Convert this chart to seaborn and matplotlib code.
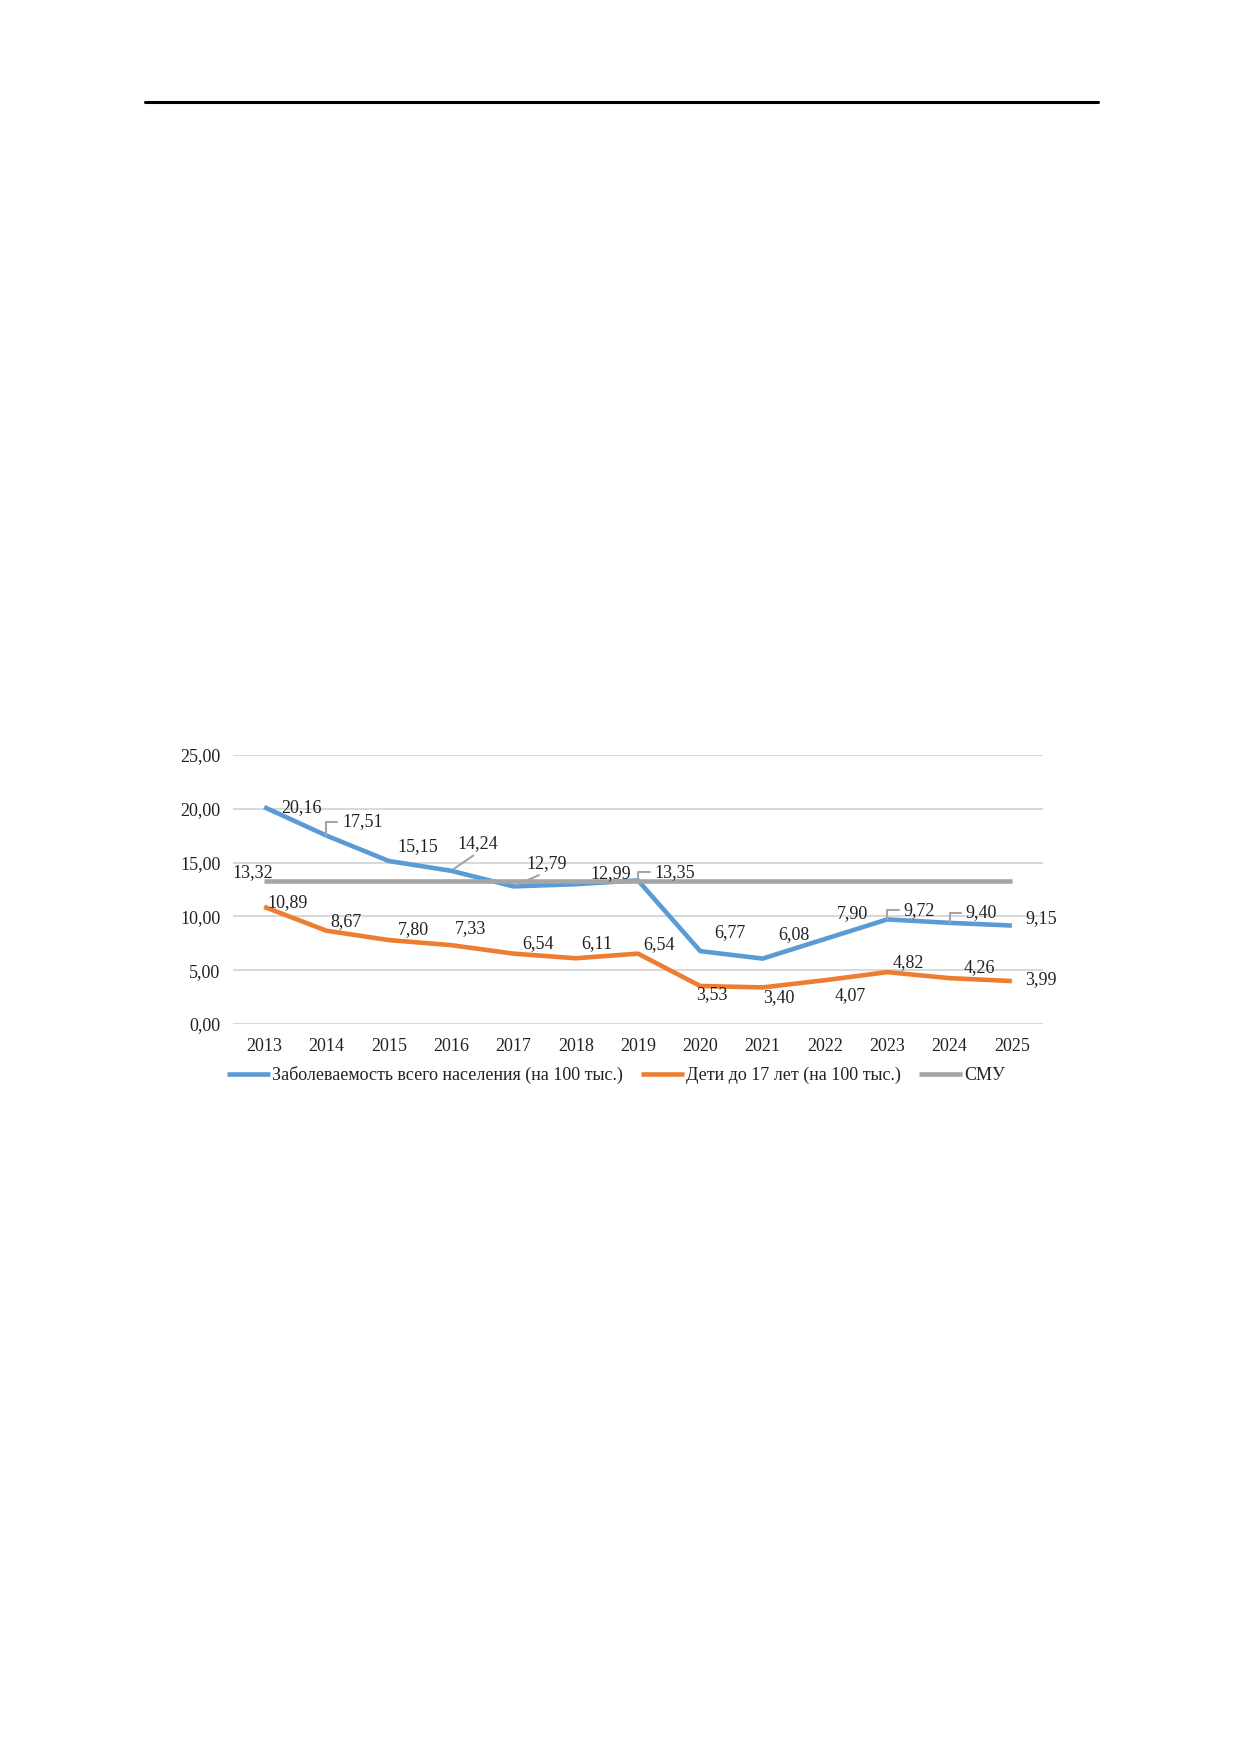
import numpy as np
import pandas as pd
import matplotlib
matplotlib.use("Agg")
import matplotlib.pyplot as plt
from matplotlib.lines import Line2D
import seaborn as sns

years = [2013, 2014, 2015, 2016, 2017, 2018, 2019, 2020, 2021, 2022, 2023, 2024, 2025]
total = [20.16, 17.51, 15.15, 14.24, 12.79, 12.99, 13.35, 6.77, 6.08, 7.90, 9.72, 9.40, 9.15]
kids = [10.89, 8.67, 7.80, 7.33, 6.54, 6.11, 6.54, 3.53, 3.40, 4.07, 4.82, 4.26, 3.99]
smu = [13.32] * len(years)

names = ["Заболеваемость всего населения (на 100 тыс.)",
         "Дети до 17 лет (на 100 тыс.)",
         "СМУ"]
colors = ["#5B9BD5", "#ED7D31", "#A5A5A5"]

# label offsets in pixels (dx, dy) as in the original figure
off_total = [(37, -1), (36, 14), (29, 14), (27, 27), (33, 23), (35, 11), (37, 8),
             (30, 19), (31, 24), (28, 25), (32, 9), (32, 10), (29, 7)]
off_kids = [(23, 4), (20, 9), (25, 10), (19, 17), (25, 10), (21, 15), (21, 9),
            (12, -9), (16, -10), (25, -15), (21, 10), (30, 11), (29, 1)]
hooks = [1, 6, 10, 11]      # leader lines shaped like a bracket
diag = [3, 4]               # straight leader lines


def fmt(v):
    return f"{v:.2f}".replace(".", ",")


sns.set_theme(style="white")
plt.rcParams["font.family"] = ["Liberation Serif", "DejaVu Serif"]

df = pd.DataFrame({"year": years, "total": total, "kids": kids, "smu": smu})

fig = plt.figure(figsize=(12.4, 17.54), dpi=100)
ax = fig.add_axes([233 / 1240, 1 - 1024 / 1754, 810 / 1240, 269 / 1754])

for col, name, c in zip(["total", "kids", "smu"], names, colors):
    data = df if col != "smu" else df
    sns.lineplot(data=data, x="year", y=col, ax=ax, color=c, lw=3.3,
                 label=name, solid_capstyle="butt", legend=False)

ax.set_xlim(2012.5, 2025.5)
ax.set_ylim(0, 25)
ax.set_xticks(years)
ax.set_yticks([0, 5, 10, 15, 20, 25])
ax.set_yticklabels([fmt(t) for t in [0, 5, 10, 15, 20, 25]])
ax.set_xlabel("")
ax.set_ylabel("")
ax.tick_params(axis="both", length=0, labelsize=13, colors="#222222")
ax.tick_params(axis="y", pad=9)
ax.tick_params(axis="x", pad=10)
ax.grid(axis="y", color="#D9D9D9", lw=1.5)
ax.set_axisbelow(True)
for s in ax.spines.values():
    s.set_visible(False)

for i, (x, v) in enumerate(zip(years, total)):
    dx, dy = off_total[i]
    props = None
    if i in hooks:
        props = dict(arrowstyle="-", color="#A5A5A5", lw=1.5, shrinkA=1, shrinkB=0,
                     relpos=(0, 0.5), connectionstyle="angle,angleA=0,angleB=90,rad=0")
    elif i in diag:
        props = dict(arrowstyle="-", color="#A5A5A5", lw=1.5, shrinkA=0, shrinkB=2,
                     relpos=(0.5, 0))
    ax.annotate(fmt(v), (x, v), xytext=(dx, dy), textcoords="offset pixels",
                ha="center", va="center", fontsize=13, color="#222222",
                arrowprops=props)

for i, (x, v) in enumerate(zip(years, kids)):
    dx, dy = off_kids[i]
    ax.annotate(fmt(v), (x, v), xytext=(dx, dy), textcoords="offset pixels",
                ha="center", va="center", fontsize=13, color="#222222")

ax.annotate(fmt(smu[0]), (years[0], smu[0]), xytext=(-11, 8), textcoords="offset pixels",
            ha="center", va="center", fontsize=13, color="#222222")

handles = [Line2D([], [], color=c, lw=3.3, solid_capstyle="butt") for c in colors]
fig.legend(handles, names, loc="center", bbox_to_anchor=(616 / 1240, 1 - 1075 / 1754),
           ncol=3, frameon=False, fontsize=13, handlelength=2.4, handletextpad=0.1,
           columnspacing=1.0, labelcolor="#222222")

# page header rule
fig.add_artist(Line2D([145 / 1240, 1098 / 1240], [1 - 102 / 1754, 1 - 102 / 1754],
                      color="black", lw=2.2))

fig.savefig("out.png", dpi=100)
